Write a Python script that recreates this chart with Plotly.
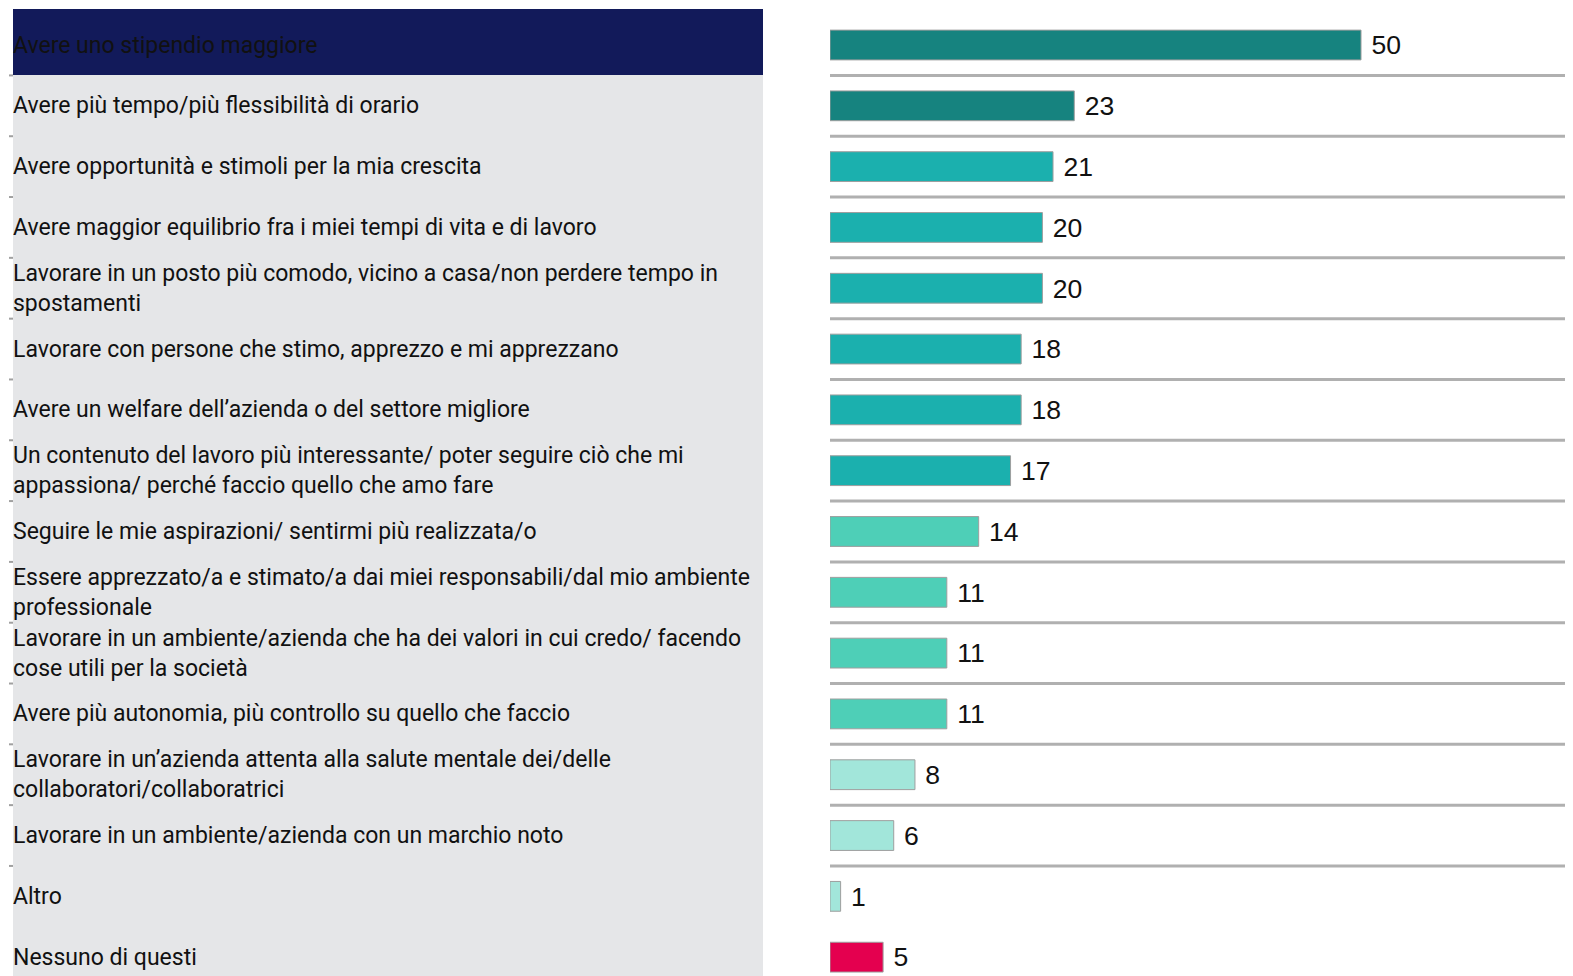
import plotly.graph_objects as go

labels = [
    "Avere uno stipendio maggiore",
    "Avere più tempo/più flessibilità di orario",
    "Avere opportunità e stimoli per la mia crescita",
    "Avere maggior equilibrio fra i miei tempi di vita e di lavoro",
    "Lavorare in un posto più comodo, vicino a casa/non perdere tempo in<br>spostamenti",
    "Lavorare con persone che stimo, apprezzo e mi apprezzano",
    "Avere un welfare dell’azienda o del settore migliore",
    "Un contenuto del lavoro più interessante/ poter seguire ciò che mi<br>appassiona/ perché faccio quello che amo fare",
    "Seguire le mie aspirazioni/ sentirmi più realizzata/o",
    "Essere apprezzato/a e stimato/a dai miei responsabili/dal mio ambiente<br>professionale",
    "Lavorare in un ambiente/azienda che ha dei valori in cui credo/ facendo<br>cose utili per la società",
    "Avere più autonomia, più controllo su quello che faccio",
    "Lavorare in un’azienda attenta alla salute mentale dei/delle<br>collaboratori/collaboratrici",
    "Lavorare in un ambiente/azienda con un marchio noto",
    "Altro",
    "Nessuno di questi",
]
values = [50, 23, 21, 20, 20, 18, 18, 17, 14, 11, 11, 11, 8, 6, 1, 5]
bar_colors = ["#16837F", "#16837F",
              "#1BB0AE", "#1BB0AE", "#1BB0AE", "#1BB0AE", "#1BB0AE", "#1BB0AE",
              "#4ECFB7", "#4ECFB7", "#4ECFB7", "#4ECFB7",
              "#A2E6DA", "#A2E6DA", "#A2E6DA",
              "#E4004F"]

# the page body has an 8px margin, so the figure is drawn from (8, 8)
OFF = 8
W, H = 1573 - OFF, 976 - OFF

def px(x):
    return (x - OFF) / W

def py(y):
    return 1 - (y - OFF) / H

fig = go.Figure()
fig.add_trace(go.Bar(
    x=values, y=labels, orientation="h",
    marker=dict(color=bar_colors, line=dict(color="#9E9E9E", width=1)),
    width=0.49,
    texttemplate="\u00a0%{x}", textposition="outside", cliponaxis=False,
    textfont=dict(family="Liberation Sans, Arial", size=33, color="#111111"),
    showlegend=False, hoverinfo="skip",
))

shapes = []
# left panel and header band
shapes.append(dict(type="rect", xref="paper", yref="paper", x0=px(13), x1=px(763),
                   y0=0, y1=py(9), fillcolor="#E5E6E8", line_width=0, layer="below"))
shapes.append(dict(type="rect", xref="paper", yref="paper", x0=px(13), x1=px(763),
                   y0=py(75), y1=py(9), fillcolor="#121A5A", line_width=0, layer="below"))
# row separators and small ticks on the left
for i in range(len(labels) - 2):
    shapes.append(dict(type="line", xref="paper", yref="y", x0=px(830), x1=1,
                       y0=i + 0.5, y1=i + 0.5, line=dict(color="#B0B0B0", width=3)))
    shapes.append(dict(type="line", xref="paper", yref="y", x0=px(9), x1=px(13),
                       y0=i + 0.5, y1=i + 0.5, line=dict(color="#A0A0A0", width=2)))

annotations = []
for lab in labels:
    annotations.append(dict(xref="paper", yref="y", x=px(11), y=lab, text=lab,
                            xanchor="left", yanchor="middle", align="left", showarrow=False,
                            font=dict(family="Roboto", size=23, color="#111111")))

fig.update_layout(
    width=W, height=H,
    margin=dict(l=0, r=0, t=0, b=0),
    paper_bgcolor="white", plot_bgcolor="white",
    shapes=shapes, annotations=annotations,
    xaxis=dict(domain=[px(830), 1], range=[0, 69.96], visible=False, fixedrange=True),
    yaxis=dict(range=[15.31, -(45 - OFF) / 60.8], visible=False, fixedrange=True),
)

fig.write_html("out.html")
